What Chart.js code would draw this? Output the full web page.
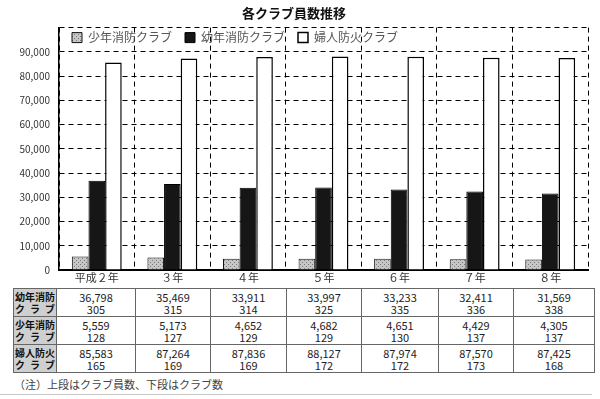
<!DOCTYPE html>
<html>
<head>
<meta charset="utf-8">
<script src="https://cdn.jsdelivr.net/npm/chart.js@4.4.1/dist/chart.umd.min.js"></script>
<style>
    body { margin: 0; background: #fff; font-family: "Noto Sans CJK JP", sans-serif; }
    #wrap { position: relative; width: 600px; height: 399px; overflow: hidden; }
    #club-chart { position: absolute; left: 0; top: 0; }
    #club-table { position: absolute; left: 13px; top: 288px; border-collapse: collapse; table-layout: fixed; }
    #club-table td { border: 1px solid #666; text-align: center; font-size: 11px; line-height: 12px; color: #222; padding: 0; height: 27px; }
    #club-table td.head { background: #cfcfcf; color: #111; font-weight: bold; font-size: 10px; padding: 0 1px; }
    #club-table td.head div { text-align: justify; text-align-last: justify; }
    #note { position: absolute; left: 14px; top: 376px; font-size: 11px; color: #444; }
    #rule { position: absolute; left: 0; top: 394px; width: 592px; border-top: 1px solid #c8c8c8; }
</style>
</head>
<body>
<div id="wrap">
    <canvas id="club-chart" width="600" height="285"></canvas>
    <table id="club-table"></table>
    <div id="note">（注）上段はクラブ員数、下段はクラブ数</div>
    <div id="rule"></div>
</div>
<script>
const years = ["平成２年", "３年", "４年", "５年", "６年", "７年", "８年"];
// クラブ員数
const shonenMembers = [5559, 5173, 4652, 4682, 4651, 4429, 4305];
const yonenMembers = [36798, 35469, 33911, 33997, 33233, 32411, 31569];
const fujinMembers = [85583, 87264, 87836, 88127, 87974, 87570, 87425];
// クラブ数
const shonenClubs = [128, 127, 129, 129, 130, 137, 137];
const yonenClubs = [305, 315, 314, 325, 335, 336, 338];
const fujinClubs = [165, 169, 169, 172, 172, 173, 168];
const colWidths = [79, 75, 76, 75, 77, 75, 81];

const fmt = (n) => n.toLocaleString("en-US");

// table under the chart
let rows = [
    ["幼年消防", yonenMembers, yonenClubs],
    ["少年消防", shonenMembers, shonenClubs],
    ["婦人防火", fujinMembers, fujinClubs]
];
let html = '<colgroup><col style="width:43px">' + colWidths.map(w => `<col style="width:${w}px">`).join("") + "</colgroup>";
rows.forEach(r => {
    html += `<tr><td class="head"><div>${r[0]}</div><div>クラブ</div></td>`;
    r[1].forEach((v, i) => {
        html += `<td>${fmt(v)}<br>${r[2][i]}</td>`;
    });
    html += "</tr>";
});
document.getElementById("club-table").innerHTML = html;

let ctx = document.getElementById("club-chart").getContext("2d");

// stippled gray for 少年消防クラブ
let tile = document.createElement("canvas");
tile.width = 4;
tile.height = 4;
let tg = tile.getContext("2d");
tg.fillStyle = "#c6c6c6";
tg.fillRect(0, 0, 4, 4);
tg.fillStyle = "#7a7a7a";
tg.fillRect(0, 0, 1, 1);
tg.fillRect(2, 2, 1, 1);
let stipple = ctx.createPattern(tile, "repeat");

// legend takes no room of its own, it sits in the band above 90,000
const legendInside = {
    id: "legendInside",
    beforeLayout: (chart) => {
        let lg = chart.legend;
        if (lg && !lg._wrapped) {
            let fit = lg.fit;
            lg.fit = function () {
                fit.call(this);
                this.height = 0;
            };
            lg._wrapped = true;
        }
    },
    afterLayout: (chart) => {
        let lg = chart.legend;
        let area = chart.chartArea;
        lg.top = area.top - 9;
        lg.bottom = area.top + 24;
        lg.height = lg.bottom - lg.top;
        lg.left = area.left;
        lg.right = area.right;
        lg.width = area.right - area.left;
    }
};

new Chart(ctx, {
    type: "bar",
    data: {
        labels: years,
        datasets: [
            { label: "少年消防クラブ", data: shonenMembers, backgroundColor: stipple, borderColor: "#111", borderWidth: 1 },
            { label: "幼年消防クラブ", data: yonenMembers, backgroundColor: "#161616", borderColor: "#000", borderWidth: 1 },
            { label: "婦人防火クラブ", data: fujinMembers, backgroundColor: "#fff", borderColor: "#000", borderWidth: 1.5 }
        ]
    },
    options: {
        responsive: false,
        animation: false,
        layout: { padding: { left: 0, right: 12, top: 0, bottom: 0 } },
        datasets: { bar: { barPercentage: 1, categoryPercentage: 0.66 } },
        plugins: {
            title: {
                display: true,
                text: "各クラブ員数推移",
                color: "#111",
                font: { family: "Noto Sans CJK JP", size: 13, weight: "bold" },
                padding: { top: 5, bottom: 7 }
            },
            legend: {
                position: "top",
                align: "start",
                labels: {
                    boxWidth: 10,
                    boxHeight: 10,
                    padding: 13,
                    color: "#555",
                    font: { family: "Noto Sans CJK JP", size: 12 }
                }
            },
            tooltip: { enabled: false }
        },
        scales: {
            x: {
                afterFit: (scale) => { scale.height = 15; },
                grid: { color: "#000", lineWidth: 1, drawTicks: false, offset: true },
                border: { color: "#000", width: 2, dash: [5, 4] },
                ticks: { color: "#333", padding: 1, font: { family: "Noto Sans CJK JP", size: 11 }, maxRotation: 0 }
            },
            y: {
                min: 0,
                max: 100000,
                afterFit: (scale) => { scale.width = 59; },
                grid: { color: "#000", lineWidth: 1, drawTicks: false },
                border: { color: "#000", width: 1.5, dash: [5, 4] },
                ticks: {
                    stepSize: 10000,
                    padding: 9,
                    color: "#333",
                    font: { family: "Noto Sans CJK JP", size: 10 },
                    callback: (v) => v >= 100000 ? "" : fmt(v)
                }
            }
        }
    },
    plugins: [legendInside]
});
</script>
</body>
</html>
